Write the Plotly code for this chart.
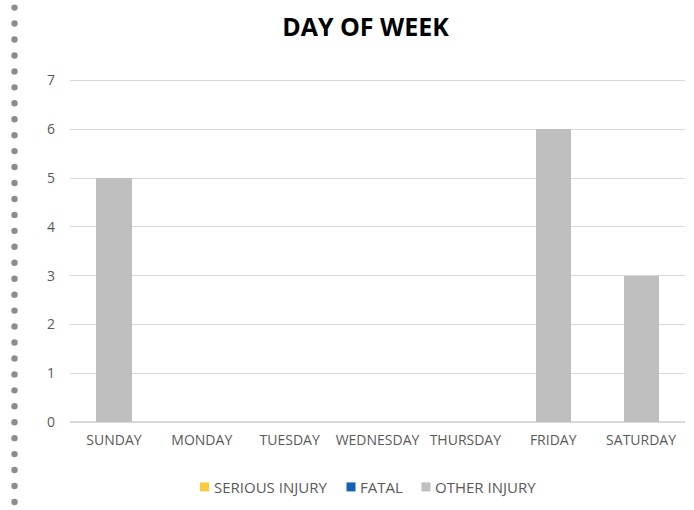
import plotly.graph_objects as go

# data
days = ["SUNDAY", "MONDAY", "TUESDAY", "WEDNESDAY", "THURSDAY", "FRIDAY", "SATURDAY"]
serious_injury = [0, 0, 0, 0, 0, 0, 0]
fatal = [0, 0, 0, 0, 0, 0, 0]
other_injury = [5, 0, 0, 0, 0, 6, 3]

series_names = ["SERIOUS INJURY", "FATAL", "OTHER INJURY"]
series_vals = [serious_injury, fatal, other_injury]
colors = ["#FFC83D", "#1262B0", "#BFBFBF"]

FONT = "Open Sans"
W, H = 694, 510
L, R, T, B = 70, 9, 78.5, 88
YMAX = 7.03  # a hair above 7 so the top gridline is kept
plot_w = W - L - R
plot_h = H - T - B

fig = go.Figure()
for name, vals, col in zip(series_names, series_vals, colors):
    fig.add_trace(go.Bar(x=days, y=vals, name=name, marker_color=col,
                         marker_line_width=0, showlegend=False))

# pixel -> paper helpers for the decorations
def px_x(x):
    return (x - L) / plot_w

def px_y(y):
    return (H - B - y) / plot_h

shapes = []
# dotted border down the left edge
for i in range(32):
    shapes.append(dict(type="circle", xref="paper", yref="paper",
                       xsizemode="pixel", ysizemode="pixel",
                       xanchor=px_x(14.5), yanchor=px_y(7 + i * 15.97),
                       x0=-3.2, x1=3.2, y0=-3.2, y1=3.2,
                       fillcolor="#8C8C8C", line_width=0))

# legend along the bottom (small squares + labels)
annotations = []
leg_x = [204.5, 351, 426]
for name, col, lx in zip(series_names, colors, leg_x):
    shapes.append(dict(type="rect", xref="paper", yref="paper",
                       xsizemode="pixel", ysizemode="pixel",
                       xanchor=px_x(lx), yanchor=px_y(487),
                       x0=-4.5, x1=4.5, y0=-4.5, y1=4.5,
                       fillcolor=col, line_width=0))
    annotations.append(dict(text=name, xref="paper", yref="paper",
                            x=px_x(lx + 7), y=px_y(487), xanchor="left", yanchor="middle",
                            showarrow=False, font=dict(size=15, color="#595959")))

fig.update_layout(
    width=W, height=H,
    margin=dict(l=L, r=R, t=T, b=B),
    paper_bgcolor="white", plot_bgcolor="white",
    barmode="stack", bargap=0.6, showlegend=False,
    font=dict(family=FONT, size=14, color="#595959"),
    title=dict(text="<b>DAY OF WEEK</b>", x=365.5 / W, xanchor="center",
               y=1 - 27 / H, yanchor="middle",
               font=dict(family=FONT, size=25, color="#000000")),
    shapes=shapes,
    annotations=annotations,
)
fig.update_xaxes(showgrid=False, showline=False, ticks="", ticklabelstandoff=8,
                 tickfont=dict(size=14, color="#595959"))
fig.update_yaxes(range=[0, YMAX], tickvals=list(range(8)), showgrid=True,
                 gridcolor="#D9D9D9", gridwidth=1, zeroline=True,
                 zerolinecolor="#D9D9D9", zerolinewidth=1.5, showline=False,
                 ticks="", ticklabelstandoff=14,
                 tickfont=dict(size=14, color="#595959"))

# drop the browser's default body margin so the figure sits at the window corner
fig.write_html("out.html", config={"displayModeBar": False},
               post_script="document.body.style.margin='0';")
